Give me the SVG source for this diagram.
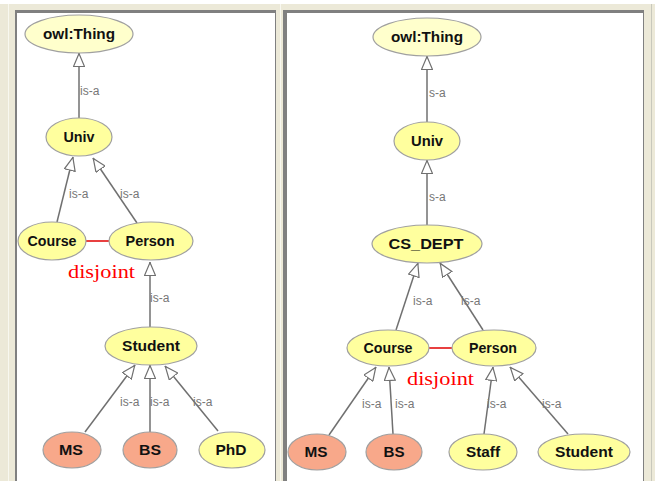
<svg xmlns="http://www.w3.org/2000/svg" width="655" height="481" viewBox="0 0 655 481">
<style>
.bg{fill:#ECE9D8}
.panel{fill:#FFFFFF}
.border{fill:#808080}
.y{fill:#FFFF9E;stroke:#A0A0A0;stroke-width:1.2}
.t{fill:#FFFFCC;stroke:#A0A0A0;stroke-width:1.2}
.s{fill:#F8A88A;stroke:#A0A0A0;stroke-width:1.2}
.lbl{font-family:"Liberation Sans",Arial,sans-serif;font-weight:bold;font-size:14px;fill:#111;text-anchor:middle}
.edge{stroke:#707070;stroke-width:1.5;fill:none;marker-end:url(#tri)}
.el{font-family:"Liberation Sans",Arial,sans-serif;font-size:12px;fill:#777777}
.dis{stroke:#E00000;stroke-width:1.5}
.dt{font-family:"Liberation Serif","Times New Roman",serif;font-size:19px;fill:#FF0000}
</style>
<defs>
<marker id="tri" viewBox="0 0 14 12" refX="14" refY="6" markerWidth="14" markerHeight="12" markerUnits="userSpaceOnUse" orient="auto">
<path d="M0.5,0.5 L13.5,6 L0.5,11.5 Z" fill="#FFFFFF" stroke="#707070" stroke-width="1.2"/>
</marker>
</defs>
<rect x="0" y="0" width="655" height="481" class="bg"/>
<rect x="0" y="0" width="655" height="4" fill="#FFFFFF"/>
<rect x="8" y="4" width="1" height="477" fill="#F8F8F0"/>
<rect x="15" y="10" width="261" height="471" class="border"/>
<rect x="17" y="13" width="258" height="468" class="panel"/>
<rect x="280" y="4" width="1" height="477" fill="#F8F8F0"/>
<rect x="283" y="10" width="361" height="471" class="border"/>
<rect x="287" y="13" width="356" height="468" class="panel"/>
<rect x="651" y="4" width="1" height="477" fill="#C8C8BC"/>

<g id="connectors">
<line class="edge" x1="79" y1="118" x2="79" y2="53"/>
<line class="edge" x1="57" y1="222" x2="73" y2="157"/>
<line class="edge" x1="137" y1="223" x2="93" y2="158"/>
<line class="edge" x1="150" y1="327" x2="150" y2="262"/>
<line class="edge" x1="85" y1="432" x2="135" y2="365"/>
<line class="edge" x1="150" y1="432" x2="150" y2="365"/>
<line class="edge" x1="218" y1="431" x2="165" y2="366"/>
<line class="dis" x1="86" y1="241" x2="109" y2="241"/>
<text class="el" x="80" y="95">is-a</text>
<text class="el" x="69" y="198">is-a</text>
<text class="el" x="120" y="198">is-a</text>
<text class="el" x="150" y="302">is-a</text>
<text class="el" x="120" y="406">is-a</text>
<text class="el" x="150" y="406">is-a</text>
<text class="el" x="193" y="406">is-a</text>
<text class="dt" x="68" y="278" textLength="67" lengthAdjust="spacingAndGlyphs">disjoint</text>

<line class="edge" x1="427" y1="122" x2="427" y2="56"/>
<line class="edge" x1="427" y1="225" x2="427" y2="160"/>
<line class="edge" x1="396" y1="330" x2="418" y2="263"/>
<line class="edge" x1="483" y1="330" x2="440" y2="263"/>
<line class="edge" x1="329" y1="435" x2="376" y2="367"/>
<line class="edge" x1="393" y1="434" x2="389" y2="367"/>
<line class="edge" x1="484" y1="434" x2="493" y2="367"/>
<line class="edge" x1="568" y1="434" x2="510" y2="367"/>
<line class="dis" x1="429" y1="348" x2="452" y2="348"/>
<text class="el" x="429" y="97">s-a</text>
<text class="el" x="429" y="201">s-a</text>
<text class="el" x="413" y="305">is-a</text>
<text class="el" x="461" y="305">is-a</text>
<text class="el" x="362" y="408">is-a</text>
<text class="el" x="395" y="408">is-a</text>
<text class="el" x="487" y="408">is-a</text>
<text class="el" x="542" y="408">is-a</text>
<text class="dt" x="407" y="385" textLength="67" lengthAdjust="spacingAndGlyphs">disjoint</text>
</g>

<g id="L_owlThing"><ellipse class="t" cx="79" cy="34" rx="54" ry="19"/><text class="lbl" x="79" y="39" textLength="72" lengthAdjust="spacingAndGlyphs">owl:Thing</text></g>
<g id="L_Univ"><ellipse class="y" cx="79" cy="137" rx="33" ry="19"/><text class="lbl" x="79" y="142" textLength="31" lengthAdjust="spacingAndGlyphs">Univ</text></g>
<g id="L_Course"><ellipse class="y" cx="52" cy="241" rx="34" ry="19"/><text class="lbl" x="52" y="246" textLength="49" lengthAdjust="spacingAndGlyphs">Course</text></g>
<g id="L_Person"><ellipse class="y" cx="151" cy="241" rx="42" ry="19"/><text class="lbl" x="150" y="246" textLength="49" lengthAdjust="spacingAndGlyphs">Person</text></g>
<g id="L_Student"><ellipse class="y" cx="151" cy="346" rx="46" ry="19"/><text class="lbl" x="151" y="351" textLength="58" lengthAdjust="spacingAndGlyphs">Student</text></g>
<g id="L_MS"><ellipse class="s" cx="72" cy="450" rx="29" ry="18"/><text class="lbl" x="71" y="455" textLength="24" lengthAdjust="spacingAndGlyphs">MS</text></g>
<g id="L_BS"><ellipse class="s" cx="150" cy="450" rx="27" ry="18"/><text class="lbl" x="150" y="455" textLength="22" lengthAdjust="spacingAndGlyphs">BS</text></g>
<g id="L_PhD"><ellipse class="y" cx="232" cy="450" rx="33" ry="18"/><text class="lbl" x="231" y="455" textLength="31" lengthAdjust="spacingAndGlyphs">PhD</text></g>

<g id="R_owlThing"><ellipse class="t" cx="427" cy="37" rx="54" ry="19"/><text class="lbl" x="427" y="42" textLength="72" lengthAdjust="spacingAndGlyphs">owl:Thing</text></g>
<g id="R_Univ"><ellipse class="y" cx="427" cy="141" rx="33" ry="19"/><text class="lbl" x="427" y="146" textLength="32" lengthAdjust="spacingAndGlyphs">Univ</text></g>
<g id="R_CS_DEPT"><ellipse class="y" cx="427" cy="244" rx="55" ry="19"/><text class="lbl" x="426" y="249" textLength="75" lengthAdjust="spacingAndGlyphs">CS_DEPT</text></g>
<g id="R_Course"><ellipse class="y" cx="388" cy="348" rx="41" ry="18"/><text class="lbl" x="388" y="353" textLength="49" lengthAdjust="spacingAndGlyphs">Course</text></g>
<g id="R_Person"><ellipse class="y" cx="494" cy="348" rx="42" ry="18"/><text class="lbl" x="493" y="353" textLength="48" lengthAdjust="spacingAndGlyphs">Person</text></g>
<g id="R_MS"><ellipse class="s" cx="317" cy="452" rx="29" ry="18"/><text class="lbl" x="316" y="457" textLength="23" lengthAdjust="spacingAndGlyphs">MS</text></g>
<g id="R_BS"><ellipse class="s" cx="394" cy="452" rx="28" ry="18"/><text class="lbl" x="394" y="457" textLength="21" lengthAdjust="spacingAndGlyphs">BS</text></g>
<g id="R_Staff"><ellipse class="y" cx="483" cy="452" rx="34" ry="18"/><text class="lbl" x="483" y="457" textLength="34" lengthAdjust="spacingAndGlyphs">Staff</text></g>
<g id="R_Student"><ellipse class="y" cx="584" cy="452" rx="46" ry="18"/><text class="lbl" x="584" y="457" textLength="58" lengthAdjust="spacingAndGlyphs">Student</text></g>
</svg>
